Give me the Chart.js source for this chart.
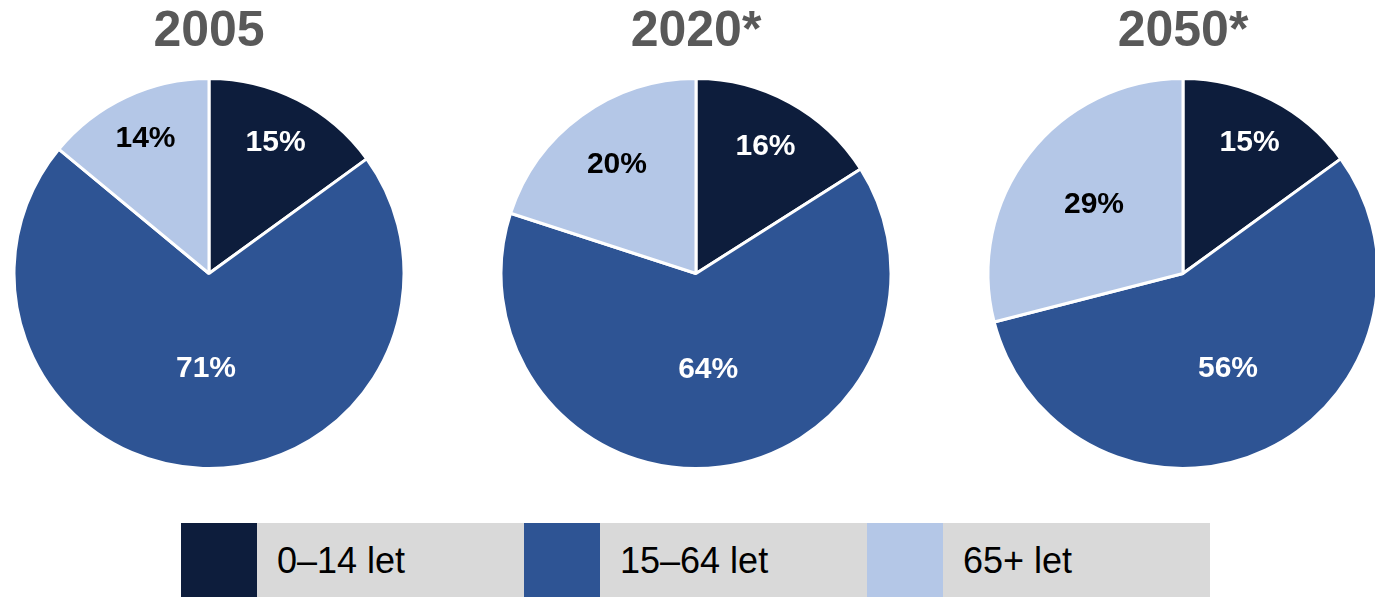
<!DOCTYPE html>
<html>
<head>
<meta charset="utf-8">
<script src="https://cdn.jsdelivr.net/npm/chart.js@4.4.1/dist/chart.umd.min.js"></script>
<style>
  html, body { margin: 0; padding: 0; background: #fff; overflow: hidden; }
  #wrap { position: relative; width: 1375px; height: 597px; overflow: hidden; }
  .pie { position: absolute; top: 0; width: 418px; height: 470px; }
  #legend { position: absolute; left: 181px; top: 523px; height: 74px; display: flex; }
  .item { display: flex; width: 343px; height: 74px; }
  .swatch { width: 76px; height: 74px; }
  .lbl { flex: 1; background: #d9d9d9; font: 36px "Liberation Sans", Arial, sans-serif; color: #000;
         line-height: 76px; padding-left: 20px; }
</style>
</head>
<body>
<div id="wrap">
  <div class="pie" style="left:0px"><canvas id="pie0"></canvas></div>
  <div class="pie" style="left:487px"><canvas id="pie1"></canvas></div>
  <div class="pie" style="left:974px"><canvas id="pie2"></canvas></div>
  <div id="legend"></div>
</div>
<script>
// Age structure shares (%) for three years
const years = ['2005', '2020*', '2050*'];
const ageGroups = ['0\u201314 let', '15\u201364 let', '65+ let'];
const shares2005 = [15, 71, 14];
const shares2020 = [16, 64, 20];
const shares2050 = [15, 56, 29];
const colors = ['#0d1d3c', '#2e5494', '#b4c7e7'];
const labelColors = ['#ffffff', '#ffffff', '#000000'];

const allShares = [shares2005, shares2020, shares2050];

// draws the percentage inside each slice
const sliceLabels = {
  id: 'sliceLabels',
  afterDatasetsDraw(chart) {
    const ctx = chart.ctx;
    const meta = chart.getDatasetMeta(0);
    const data = chart.data.datasets[0].data;
    ctx.save();
    ctx.font = 'bold 30px "Liberation Sans", Arial, sans-serif';
    ctx.textAlign = 'center';
    ctx.textBaseline = 'middle';
    meta.data.forEach(function (arc, i) {
      const v = data[i];
      const mid = (arc.startAngle + arc.endAngle) / 2;
      // small slices: label nearer the rim, big ones nearer the middle
      const frac = v <= 30 ? 0.94 - 0.0125 * v : Math.max(0.49, 0.85 - 0.0055 * v);
      const r = arc.outerRadius * frac;
      ctx.fillStyle = labelColors[i];
      ctx.fillText(v + '%', arc.x + Math.cos(mid) * r, arc.y + Math.sin(mid) * r);
    });
    ctx.restore();
  }
};

years.forEach(function (year, k) {
  new Chart(document.getElementById('pie' + k), {
    type: 'pie',
    data: {
      labels: ageGroups,
      datasets: [{
        data: allShares[k],
        backgroundColor: colors,
        borderColor: '#ffffff',
        borderWidth: 3
      }]
    },
    options: {
      responsive: true,
      maintainAspectRatio: false,
      animation: false,
      layout: { padding: 0 },
      plugins: {
        legend: { display: false },
        tooltip: { enabled: false },
        title: {
          display: true,
          text: year,
          color: '#595959',
          font: { family: '"Liberation Sans", Arial, sans-serif', size: 50, weight: 'bold' },
          padding: { top: 2, bottom: 15 }
        }
      }
    },
    plugins: [sliceLabels]
  });
});

// legend boxes
const legend = document.getElementById('legend');
ageGroups.forEach(function (g, i) {
  const item = document.createElement('div');
  item.className = 'item';
  item.innerHTML = '<div class="swatch" style="background:' + colors[i] + '"></div><div class="lbl">' + g + '</div>';
  legend.appendChild(item);
});
</script>
</body>
</html>
